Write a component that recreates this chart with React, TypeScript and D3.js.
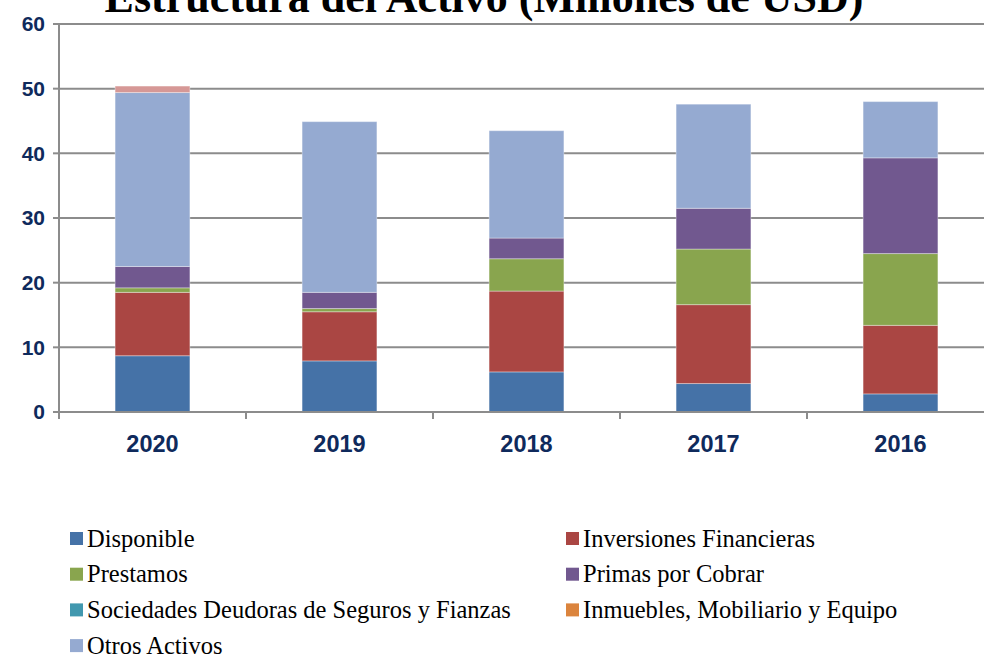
import React from 'react';
import * as d3 from 'd3';

const years = ['2020', '2019', '2018', '2017', '2016'];

const disponible = [8.7, 7.9, 6.2, 4.4, 2.8];
const inversiones = [9.8, 7.6, 12.5, 12.2, 10.6];
const prestamos = [0.7, 0.5, 5.0, 8.6, 11.1];
const primas = [3.3, 2.5, 3.2, 6.3, 14.8];
const sociedades = [0, 0, 0, 0, 0];
const inmuebles = [0, 0, 0, 0, 0];
const otrosActivos = [26.9, 26.4, 16.6, 16.1, 8.7];
const otros = [1.0, 0, 0, 0, 0];

const seriesNames = [
  'Disponible',
  'Inversiones Financieras',
  'Prestamos',
  'Primas por Cobrar',
  'Sociedades Deudoras de Seguros y Fianzas',
  'Inmuebles, Mobiliario y Equipo',
  'Otros Activos',
  'Otros',
];
const seriesValues = [disponible, inversiones, prestamos, primas, sociedades, inmuebles, otrosActivos, otros];
const seriesColors = ['#4572A7', '#AA4643', '#89A54E', '#71588F', '#4198AF', '#DB843D', '#95AAD1', '#D69896'];
const legendCount = 7;

const yTicks = [0, 10, 20, 30, 40, 50, 60];

const W = 984;
const H = 658;
const left = 59;
const step = 187;

export default function App() {
  const x = d3
    .scaleBand<string>()
    .domain(years)
    .range([left, left + step * years.length])
    .paddingInner(0.6)
    .paddingOuter(0.3);
  const y = d3.scaleLinear().domain([0, 60]).range([412, 24]);

  const table = years.map((yr, i) => {
    const row: any = { year: yr };
    seriesNames.forEach((s, j) => (row[s] = seriesValues[j][i]));
    return row;
  });
  const stacked = d3.stack<any>().keys(seriesNames)(table);

  const bounds = d3.range(years.length + 1).map((i) => left + step * i);

  return (
    <svg width={W} height={H} style={{ display: 'block', position: 'fixed', top: 0, left: 0 }}>
      <rect width={W} height={H} fill="#fff" />
      <text
        x={484}
        y={12}
        textAnchor="middle"
        fontFamily="'Liberation Serif', 'Times New Roman', serif"
        fontWeight="bold"
        fontSize={44}
        fill="#000"
      >
        Estructura del Activo (Millones de USD)
      </text>
      {yTicks.map((t) => (
        <g key={t}>
          {t > 0 && (
            <line x1={left} x2={W} y1={y(t)} y2={y(t)} stroke="#8c8c8c" strokeWidth={2} />
          )}
          <line x1={left - 6} x2={left} y1={y(t)} y2={y(t)} stroke="#8c8c8c" strokeWidth={2} />
          <text
            x={45}
            y={y(t)}
            dy="0.35em"
            textAnchor="end"
            fontFamily="'Liberation Sans', Arial, sans-serif"
            fontWeight="bold"
            fontSize={21}
            fill="#0F2A5C"
          >
            {t}
          </text>
        </g>
      ))}
      {stacked.map((layer, j) => (
        <g key={layer.key} fill={seriesColors[j]}>
          {layer.map((d, i) =>
            d[1] - d[0] > 0 ? (
              <rect
                key={i}
                x={x(years[i])}
                y={y(d[1])}
                width={x.bandwidth()}
                height={y(d[0]) - y(d[1])}
                stroke="rgba(255,255,255,0.35)"
                strokeWidth={1}
              />
            ) : null
          )}
        </g>
      ))}
      <line x1={left} x2={left} y1={y(60)} y2={y(0)} stroke="#8c8c8c" strokeWidth={2} />
      <line x1={left} x2={W} y1={y(0)} y2={y(0)} stroke="#8c8c8c" strokeWidth={2} />
      {bounds.map((b, i) => (
        <line key={i} x1={b} x2={b} y1={y(0)} y2={y(0) + 7} stroke="#8c8c8c" strokeWidth={2} />
      ))}
      {years.map((yr) => (
        <text
          key={yr}
          x={(x(yr) as number) + x.bandwidth() / 2}
          y={452}
          textAnchor="middle"
          fontFamily="'Liberation Sans', Arial, sans-serif"
          fontWeight="bold"
          fontSize={23.5}
          fill="#0F2A5C"
        >
          {yr}
        </text>
      ))}
      {seriesNames.slice(0, legendCount).map((s, j) => {
        const col = j % 2;
        const row = Math.floor(j / 2);
        const lx = col === 0 ? 70 : 566;
        const ly = 538 + row * 35.7;
        return (
          <g key={s}>
            <rect x={lx} y={ly - 6} width={13} height={13} fill={seriesColors[j]} />
            <text
              x={lx + 17}
              y={ly}
              dy="0.35em"
              fontFamily="'Liberation Serif', 'Times New Roman', serif"
              fontSize={24.5}
              fill="#000"
            >
              {s}
            </text>
          </g>
        );
      })}
    </svg>
  );
}
